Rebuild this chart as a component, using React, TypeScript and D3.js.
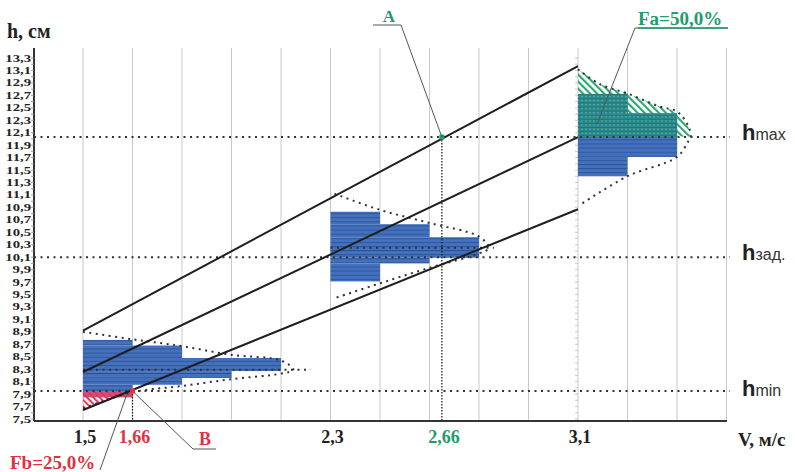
import React from 'react';
import * as d3 from 'd3';

// h axis tick labels (cm)
const hTicks = [7.5, 7.7, 7.9, 8.1, 8.3, 8.5, 8.7, 8.9, 9.1, 9.3, 9.5, 9.7, 9.9, 10.1, 10.3, 10.5, 10.7, 10.9, 11.1, 11.3, 11.5, 11.7, 11.9, 12.1, 12.3, 12.5, 12.7, 12.9, 13.1, 13.3];
// vertical grid (V, m/s)
const vGrid = [1.5, 1.66, 1.82, 1.98, 2.14, 2.3, 2.46, 2.62, 2.78, 2.94, 3.1, 3.26, 3.42, 3.58];
const vLabels = [1.5, 1.66, 2.3, 2.66, 3.1];
const vLabelText = ['1,5', '1,66', '2,3', '2,66', '3,1'];

const hMax = 12.03;
const hSet = 10.1;
const hMin = 7.95;
const vA = 2.66;
const vB = 1.66;

// the three straight lines, values at V = 1.5 and V = 3.1
const lineV = [1.5, 3.1];
const upperLine = [8.92, 13.17];
const midLine = [8.255, 12.03];
const lowerLine = [7.645, 10.87];

// one frequency unit = one grid step on V
const freqStep = 0.16;

// histogram at V = 1.5
const hist1Base = 1.5;
const hist1Edges = [7.85, 7.95, 8.05, 8.16, 8.27, 8.48, 8.68, 8.77];
const hist1Freq = [1, 1, 2, 3, 4, 2, 1];
const env1Upper: [number, number][] = [[0, 8.9], [1, 8.78], [2, 8.67], [3, 8.53], [4, 8.44], [4.25, 8.29]];
const env1Lower: [number, number][] = [[4.25, 8.29], [4, 8.23], [3, 8.14], [2, 8.03], [1, 7.93], [0, 7.67]];
const env1Tip = 8.29;

// histogram at V = 2.3
const hist2Base = 2.3;
const hist2Edges = [9.71, 10.0, 10.09, 10.42, 10.63, 10.83];
const hist2Freq = [1, 2, 3, 2, 1];
const env2Upper: [number, number][] = [[0.08, 11.12], [1, 10.86], [2, 10.65], [3, 10.43], [3.2, 10.25]];
const env2Lower: [number, number][] = [[3.2, 10.25], [3, 10.16], [2, 9.93], [1, 9.68], [0.08, 9.44]];
const env2Tip = 10.25;

// histogram at V = 3.1
const hist3Base = 3.1;
const hist3Edges = [11.4, 11.71, 12.41, 12.72];
const hist3Freq = [1, 2, 1];
const env3Upper: [number, number][] = [[0, 13.12], [0.44, 12.88], [1, 12.73], [1.65, 12.52], [2, 12.44], [2.22, 12.22], [2.28, 12.04]];
const env3Lower: [number, number][] = [[2.28, 12.04], [2.22, 11.95], [2, 11.71], [1, 11.4], [0.04, 10.94]];

const x = d3.scaleLinear().domain([1.5, 3.1]).range([83, 578]);
const y = d3.scaleLinear().domain([7.5, 13.3]).range([419, 58]);

const X0 = 34;
const Y0 = 421;
const XEND = 727;

const serif = '"Liberation Serif", "Times New Roman", serif';
const sans = '"Liberation Sans", Arial, sans-serif';
const GREEN = '#1d9c6c';
const RED = '#e0313f';
const dots = { stroke: '#333', strokeWidth: 2, strokeDasharray: '2 4.5', fill: 'none' };

const envLine = (base: number) =>
  d3
    .line<[number, number]>()
    .x((d) => x(base + d[0] * freqStep))
    .y((d) => y(d[1]))
    .curve(d3.curveCatmullRom.alpha(0.5));

const polyLine = (base: number) =>
  d3
    .line<[number, number]>()
    .x((d) => x(base + d[0] * freqStep))
    .y((d) => y(d[1]));

const Hist = ({ base, edges, freq, above, below, hiFill }: any) => {
  const x0 = x(base);
  return (
    <g>
      {freq.map((f: number, i: number) => {
        const lo = edges[i];
        const hi = edges[i + 1];
        const w = x(base + f * freqStep) - x0;
        let out = [<rect key="b" x={x0} y={y(hi)} width={w} height={y(lo) - y(hi)} fill="url(#blue)" />];
        if (above !== undefined && hi > above) {
          const l = Math.max(lo, above);
          out.push(<rect key="a" x={x0} y={y(hi)} width={w} height={y(l) - y(hi)} fill={hiFill} />);
        }
        if (below !== undefined && lo < below) {
          const h = Math.min(hi, below);
          out.push(<rect key="c" x={x0} y={y(h)} width={w} height={y(lo) - y(h)} fill="#c0568a" />);
          out.push(<rect key="d" x={x0} y={y(h)} width={w} height={y(lo) - y(h)} fill={hiFill} />);
        }
        return <g key={i}>{out}</g>;
      })}
    </g>
  );
};

const HLabel = ({ sub, yy }: any) => (
  <text x={742} y={yy} fontFamily={sans} fill="#222">
    <tspan fontSize={22} fontWeight="bold">h</tspan>
    <tspan fontSize={16} fill="#333">{sub}</tspan>
  </text>
);

export default function App() {
  const lines = [upperLine, midLine, lowerLine];
  return (
    <svg width={795} height={472} style={{ position: 'absolute', left: 0, top: 0, background: '#fff' }}>
      <defs>
        <pattern id="blue" width={6} height={4.1} patternUnits="userSpaceOnUse">
          <rect width={6} height={4.1} fill="#4471bd" />
          <line x1={0} x2={6} y1={0.5} y2={0.5} stroke="#2d5597" strokeWidth={1} />
        </pattern>
        <pattern id="teal" width={4} height={4.1} patternUnits="userSpaceOnUse">
          <rect width={4} height={4.1} fill="#28898a" />
          <circle cx={2} cy={2} r={0.8} fill="#5fb7a6" />
          <line x1={0} x2={4} y1={0.5} y2={0.5} stroke="#1f6f77" strokeWidth={0.8} />
        </pattern>
        <pattern id="greenHatch" width={5} height={5} patternUnits="userSpaceOnUse" patternTransform="rotate(-45)">
          <line x1={1} x2={1} y1={0} y2={5} stroke="#2fa874" strokeWidth={2.4} />
        </pattern>
        <pattern id="redHatch" width={4.5} height={4.5} patternUnits="userSpaceOnUse" patternTransform="rotate(-45)">
          <line x1={1} x2={1} y1={0} y2={4.5} stroke="#e8334f" strokeWidth={2} />
        </pattern>
      </defs>

      {/* grid */}
      {vGrid.map((v) => (
        <line key={v} x1={x(v)} x2={x(v)} y1={48} y2={Y0} stroke="#c9c9c9" strokeWidth={1} />
      ))}
      {/* minor ticks on the 3,1 line */}
      {d3.range(7.5, 13.35, 0.1).map((h, i) => (
        <line key={i} x1={x(3.1) - 3} x2={x(3.1)} y1={y(h)} y2={y(h)} stroke="#bbb" strokeWidth={0.8} />
      ))}

      {/* hatched tails */}
      <path d={polyLine(hist3Base)([[0, hMax], ...env3Upper]) + 'Z'} fill="url(#greenHatch)" />
      <path d={polyLine(hist1Base)([[0, hMin], [1, hMin], ...env1Lower.filter((d) => d[0] <= 1)]) + 'Z'} fill="url(#redHatch)" />

      {/* histograms */}
      <Hist base={hist1Base} edges={hist1Edges} freq={hist1Freq} below={hMin} hiFill="url(#redHatch)" />
      <Hist base={hist2Base} edges={hist2Edges} freq={hist2Freq} />
      <Hist base={hist3Base} edges={hist3Edges} freq={hist3Freq} above={hMax} hiFill="url(#teal)" />

      {/* level lines */}
      {[hMax, hSet, hMin].map((h) => (
        <line key={h} x1={X0} x2={XEND + 3} y1={y(h)} y2={y(h)} {...dots} />
      ))}

      {/* envelopes */}
      <path d={envLine(hist1Base)([...env1Upper, ...env1Lower.slice(1)]) as string} {...dots} />
      <path d={envLine(hist2Base)([...env2Upper, ...env2Lower.slice(1)]) as string} {...dots} />
      <path d={envLine(hist3Base)([...env3Upper, ...env3Lower.slice(1)]) as string} {...dots} />
      <line x1={x(hist1Base)} x2={x(hist1Base + 4.6 * freqStep)} y1={y(env1Tip)} y2={y(env1Tip)} {...dots} />
      <line x1={x(hist2Base)} x2={x(hist2Base + 3.3 * freqStep)} y1={y(env2Tip)} y2={y(env2Tip)} {...dots} />

      {/* straight lines */}
      {lines.map((l, i) => (
        <line key={i} x1={x(lineV[0])} x2={x(lineV[1])} y1={y(l[0])} y2={y(l[1])} stroke="#1e1e1e" strokeWidth={2} />
      ))}

      {/* vertical markers */}
      <line x1={x(vB)} x2={x(vB)} y1={y(hMin)} y2={Y0} stroke="#222" strokeWidth={1.3} strokeDasharray="1.5 1.5" />
      <line x1={x(vA)} x2={x(vA)} y1={y(hMax)} y2={Y0} stroke="#222" strokeWidth={1.3} strokeDasharray="1.5 1.5" />
      <rect x={x(vA) - 2.5} y={y(hMax) - 2.5} width={5} height={5} fill={GREEN} />
      <rect x={x(vB) - 2.5} y={y(hMin) - 2.5} width={5} height={5} fill={RED} />

      {/* axes */}
      <line x1={X0} x2={X0} y1={48} y2={Y0} stroke="#333" strokeWidth={2} />
      <line x1={X0} x2={XEND} y1={Y0} y2={Y0} stroke="#333" strokeWidth={2} />
      {d3.range(7.5, 13.35, 0.1).map((h, i) => (
        <line key={i} x1={X0 - 3} x2={X0} y1={y(h)} y2={y(h)} stroke="#888" strokeWidth={0.8} />
      ))}
      {hTicks.map((h) => (
        <text
          key={h}
          transform={`translate(31,${y(h) + 3.5}) scale(1.4,1)`}
          textAnchor="end"
          fontFamily={serif}
          fontWeight="bold"
          fontSize={10.5}
          fill="#222"
        >
          {h.toFixed(1).replace('.', ',')}
        </text>
      ))}
      {vLabels.map((v, i) => (
        <text
          key={v}
          x={x(v) + 2}
          y={443}
          textAnchor="middle"
          fontFamily={serif}
          fontWeight="bold"
          fontSize={18}
          fill={v === vA ? GREEN : v === vB ? RED : '#222'}
        >
          {vLabelText[i]}
        </text>
      ))}
      <text x={7} y={38} fontFamily={serif} fontWeight="bold" fontSize={20} fill="#222">h, см</text>
      <text x={738} y={446} fontFamily={serif} fontWeight="bold" fontSize={19} fill="#222">V, м/с</text>

      <HLabel yy={y(hMax) + 3} sub="max" />
      <HLabel yy={y(hSet) + 3} sub="зад." />
      <HLabel yy={y(hMin) + 5} sub="min" />

      {/* annotations */}
      <text x={389} y={22} textAnchor="middle" fontFamily={serif} fontWeight="bold" fontSize={17} fill={GREEN}>A</text>
      <polyline points={`373,25 401,25 ${x(vA)},${y(hMax)}`} fill="none" stroke="#555" strokeWidth={1} />
      <text x={638} y={25} fontFamily={serif} fontWeight="bold" fontSize={19} fill={GREEN}>Fa=50,0%</text>
      <polyline points={`728,28 635,28 597,124`} fill="none" stroke="#555" strokeWidth={1} />
      <line x1={638} x2={728} y1={28} y2={28} stroke={GREEN} strokeWidth={1.5} />
      <text x={205} y={445} textAnchor="middle" fontFamily={serif} fontWeight="bold" fontSize={18} fill={RED}>B</text>
      <polyline points={`216,449 193,449 ${x(vB) + 2},${y(hMin) + 2}`} fill="none" stroke="#555" strokeWidth={1} />
      <text x={10} y={469} fontFamily={serif} fontWeight="bold" fontSize={19} fill={RED}>Fb=25,0%</text>
      <line x1={100} x2={127} y1={470} y2={394} stroke="#555" strokeWidth={1} />
    </svg>
  );
}
